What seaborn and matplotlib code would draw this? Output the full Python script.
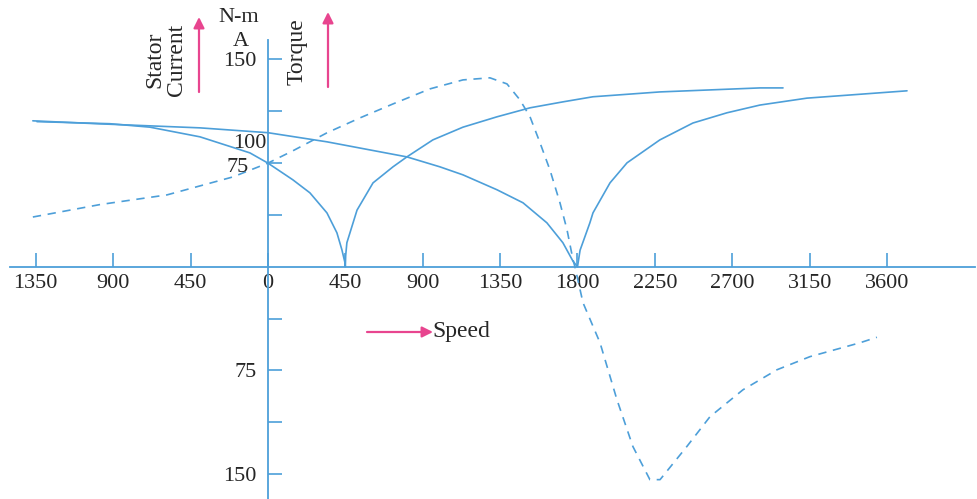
import matplotlib
matplotlib.use("Agg")
import matplotlib.pyplot as plt
import seaborn as sns

# stator current, low-frequency curve (synchronous speed 450)
speed_a = [-1343, -919, -686, -395, -105, 0, 145, 244, 343, 401, 430, 448, 450,
           452, 459, 518, 611, 727, 808, 959, 1134, 1332, 1524, 1715, 1890, 2279,
           2861, 2995]
current_a = [105, 103.5, 101, 94, 82.4, 75, 62.9, 53.5, 39, 24.6, 12.3, 2.9, 0,
             8, 17.4, 41, 60.7, 72.3, 79.5, 91.8, 101, 108.5, 115, 119.3, 123, 126.5,
             129.4, 129.4]

# stator current, rated-frequency curve (synchronous speed 1800)
speed_b = [-1367, -977, -395, 0, 343, 808, 1000, 1134, 1332, 1483, 1622, 1715,
           1774, 1800, 1815, 1872, 1890, 1989, 2088, 2279, 2471, 2669, 2861, 3134, 3716]
current_b = [105.6, 103.4, 100.5, 97, 90.4, 79.5, 72.3, 66.5, 55.7, 46.3, 31.8, 17.4,
             4, 0, 12, 31.8, 39, 60.7, 75.2, 91.8, 104, 111.4, 117, 122, 127.3]

# torque curve (dashed)
speed_t = [-1367, -977, -587, -204, 0, 145, 343, 535, 727, 942, 1134, 1291, 1390,
           1465, 1524, 1582, 1640, 1698, 1739, 1774, 1785, 1832, 1931, 2029, 2122,
           2221, 2280, 2436, 2570, 2762, 2960, 3152, 3442, 3541]
torque_t = [36, 45, 52, 65, 75, 83.9, 96.9, 107.7, 117.8, 128.7, 135.2, 136.7, 132.3,
            120.8, 108.5, 89.7, 70, 46.3, 26.8, 5, 0, -26, -55, -96, -130,
            -154, -154, -130, -108.5, -89, -74.5, -65, -55, -51]

xticks = [-1350, -900, -450, 0, 450, 900, 1350, 1800, 2250, 2700, 3150, 3600]
xlabels = ["1350", "900", "450", "0", "450", "900", "1350", "1800", "2250", "2700", "3150", "3600"]
yticks = [150, 112.5, 75, 37.5, -37.5, -75, -112.5, -150]
ylabels = ["150", "", "", "", "", "75", "", "150"]

sns.set_style("white")
plt.rcParams['font.family'] = ['Liberation Serif', 'DejaVu Serif']

blue = '#4d9fd9'
pink = '#e8458f'
txt = '#262626'

fig = plt.figure(figsize=(9.77, 4.99), dpi=100)
ax = fig.add_axes([0, 0, 1, 1])
ax.patch.set_alpha(0)

sns.lineplot(x=speed_a, y=current_a, ax=ax, color=blue, lw=1.2, sort=False, estimator=None)
sns.lineplot(x=speed_b, y=current_b, ax=ax, color=blue, lw=1.2, sort=False, estimator=None)
sns.lineplot(x=speed_t, y=torque_t, ax=ax, color=blue, lw=1.2, sort=False, estimator=None)
ax.lines[-1].set_dashes([5, 4])

ax.set_xlim(-1558, 4123)
ax.set_ylim(-168, 193)

for s in ['top', 'right']:
    ax.spines[s].set_visible(False)
ax.spines['left'].set_position(('data', 0))
ax.spines['bottom'].set_position(('data', 0))
ax.spines['left'].set_bounds(-168, 164)
ax.spines['bottom'].set_bounds(-1500, 4110)
for s in ['left', 'bottom']:
    ax.spines[s].set_color(blue)
    ax.spines[s].set_linewidth(1.3)

ax.set_xticks(xticks)
ax.set_xticklabels(xlabels)
ax.set_yticks(yticks)
ax.set_yticklabels(ylabels)
ax.tick_params(axis='x', bottom=True, direction='in', length=10, width=1.2, color=blue,
               labelsize=16, labelcolor=txt, pad=5)
ax.tick_params(axis='y', left=True, direction='in', length=10, width=1.2, color=blue,
               labelsize=16, labelcolor=txt, pad=8)
ax.set_xlabel("")
ax.set_ylabel("")


def fx(px):
    return px / 977


def fy(py):
    return 1 - py / 499


ax.text(fx(250), fy(143), "100", transform=ax.transAxes, ha='center', va='center',
        fontsize=16, color=txt)
ax.text(fx(238), fy(167), "75", transform=ax.transAxes, ha='center', va='center',
        fontsize=16, color=txt)
ax.text(fx(239), fy(17), "N-m", transform=ax.transAxes, ha='center', va='center',
        fontsize=16, color=txt)
ax.text(fx(241), fy(42), "A", transform=ax.transAxes, ha='center', va='center',
        fontsize=16, color=txt)
ax.text(fx(166), fy(60), "Stator\nCurrent", transform=ax.transAxes, ha='center',
        va='center', rotation=90, multialignment='center', fontsize=17, color=txt,
        linespacing=1.05)
ax.text(fx(297), fy(52), "Torque", transform=ax.transAxes, ha='center', va='center',
        rotation=90, fontsize=17, color=txt)
ax.text(fx(432), fy(331), "Speed", transform=ax.transAxes, ha='left', va='center',
        fontsize=17, color=txt)

arrow = dict(arrowstyle='-|>', color=pink, lw=1.6, mutation_scale=16, shrinkA=0, shrinkB=0)
ax.annotate("", xy=(fx(199), fy(17)), xytext=(fx(199), fy(92)), xycoords='axes fraction',
            textcoords='axes fraction', arrowprops=arrow)
ax.annotate("", xy=(fx(328), fy(12)), xytext=(fx(328), fy(87)), xycoords='axes fraction',
            textcoords='axes fraction', arrowprops=arrow)
ax.annotate("", xy=(fx(433), fy(332)), xytext=(fx(367), fy(332)), xycoords='axes fraction',
            textcoords='axes fraction', arrowprops=arrow)

fig.savefig("out.png", dpi=100, facecolor='white')
